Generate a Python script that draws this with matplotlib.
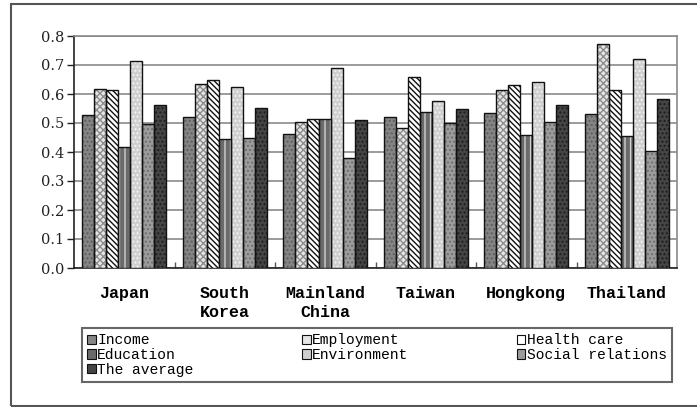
import matplotlib
matplotlib.use("Agg")
import matplotlib.pyplot as plt
from matplotlib.patches import Patch, Rectangle
from matplotlib.ticker import FixedLocator
import numpy as np

regions = ["Japan", "South\nKorea", "Mainland\nChina", "Taiwan", "Hongkong", "Thailand"]
series_names = ["Income", "Employment", "Health care", "Education",
                "Environment", "Social relations", "The average"]

income = [0.528, 0.521, 0.461, 0.520, 0.533, 0.531]
employment = [0.617, 0.636, 0.502, 0.484, 0.614, 0.772]
health_care = [0.615, 0.647, 0.513, 0.658, 0.630, 0.615]
education = [0.418, 0.446, 0.515, 0.538, 0.459, 0.455]
environment = [0.713, 0.624, 0.689, 0.575, 0.640, 0.721]
social_relations = [0.497, 0.449, 0.379, 0.501, 0.502, 0.405]
the_average = [0.563, 0.553, 0.510, 0.547, 0.563, 0.584]

series = [income, employment, health_care, education,
          environment, social_relations, the_average]

# (fill colour, hatch, hatch colour) per series
styles = [
    ("#858585", "....", "#5e5e5e"),
    ("#e6e6e6", "xxxxx", "#8c8c8c"),
    ("#ffffff", "\\\\\\\\\\\\", "#111111"),
    ("#6a6a6a", "|||", "#d0d0d0"),
    ("#cfcfcf", "....", "#f2f2f2"),
    ("#9c9c9c", "....", "#6f6f6f"),
    ("#454545", "....", "#1e1e1e"),
]

fig = plt.figure(figsize=(6.97, 4.07), dpi=100)
ax = fig.add_axes([74 / 697, 1 - 268 / 407, (677 - 74) / 697, (268 - 36) / 407])

x = np.arange(len(regions))
w = 0.12
for i, (vals, (fc, hatch, hc)) in enumerate(zip(series, styles)):
    pos = x + (i - 3) * w
    ax.bar(pos, vals, width=w, color=fc, hatch=hatch, edgecolor=hc,
           linewidth=0, zorder=3)
    ax.bar(pos, vals, width=w, fill=False, edgecolor="#111111",
           linewidth=1.0, zorder=4)

ax.set_xlim(-0.5, len(regions) - 0.5)
ax.set_ylim(0, 0.8)
ax.set_yticks(np.arange(0, 0.81, 0.1))
ax.set_yticklabels([f"{v:.1f}" for v in np.arange(0, 0.81, 0.1)],
                   family="DejaVu Serif", fontsize=10.5, color="#222222")
ax.yaxis.grid(True, color="#8a8a8a", linewidth=1.2, zorder=0)
ax.set_axisbelow(True)
ax.tick_params(axis="y", direction="out", length=5, width=1, pad=2, color="#222222")

ax.set_xticks(x)
ax.set_xticklabels(regions, family="Liberation Mono", fontweight="bold",
                   fontsize=12, linespacing=1.35, va="top")
ax.tick_params(axis="x", which="major", length=0, pad=13)
ax.xaxis.set_minor_locator(FixedLocator(x[:-1] + 0.5))
ax.tick_params(axis="x", which="minor", direction="in", length=4,
               width=1, color="#555555")

for side in ("left", "bottom"):
    ax.spines[side].set_color("#222222")
    ax.spines[side].set_linewidth(1.2)
for side in ("top", "right"):
    ax.spines[side].set_color("#8a8a8a")
    ax.spines[side].set_linewidth(1.2)

handles = [Patch(facecolor=fc, edgecolor="#111111", linewidth=0.8)
           for fc, _, _ in styles]
# ncol fills column-wise; reorder so the rows read left to right
order = [0, 3, 6, 1, 4, 2, 5]
leg = fig.legend([handles[k] for k in order], [series_names[k] for k in order],
                 ncol=3, loc="lower left", mode="expand",
                 bbox_to_anchor=(82 / 697, 1 - 382 / 407, (672 - 82) / 697, 48 / 407),
                 prop={"family": "Liberation Mono", "size": 10.5},
                 handlelength=0.6, handleheight=0.6, handletextpad=0.1,
                 labelspacing=0.05, borderpad=0.35, borderaxespad=0,
                 fancybox=False, framealpha=1)
leg.get_frame().set_edgecolor("#666666")
leg.get_frame().set_linewidth(1.5)

# outer border around the whole chart
fig.add_artist(Rectangle((11 / 697, 1.5 / 407), 1.2, 1 - 5.5 / 407,
                         transform=fig.transFigure, fill=False,
                         edgecolor="#555555", linewidth=1.5, clip_on=False))

fig.savefig("out.png", dpi=100)
